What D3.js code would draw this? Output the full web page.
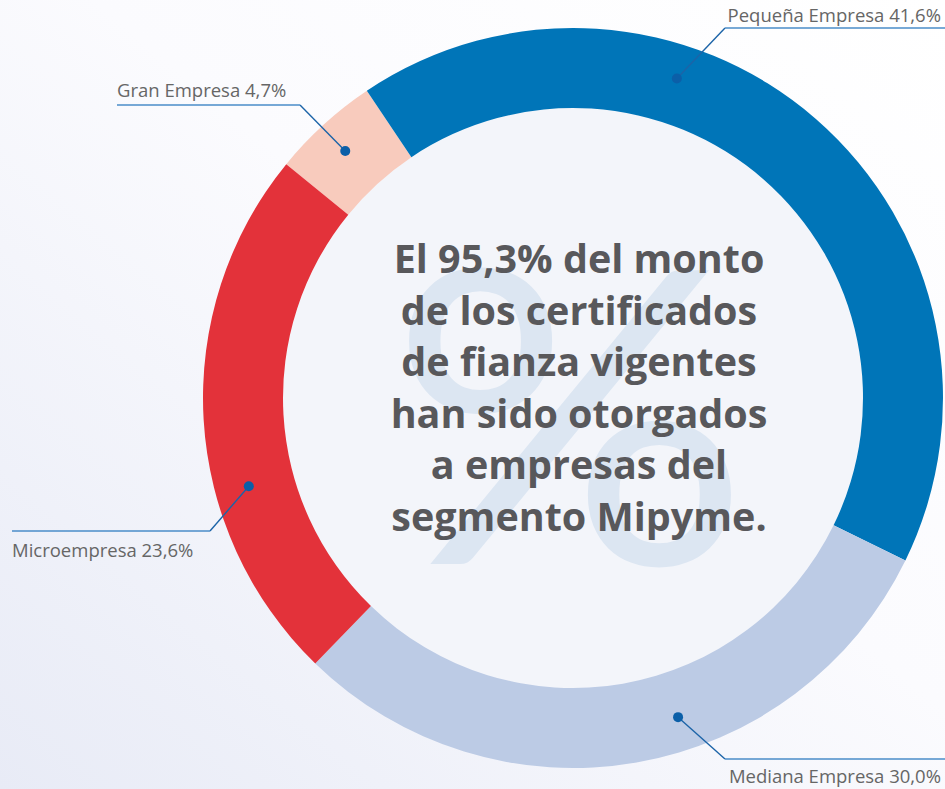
<!DOCTYPE html>
<html>
<head>
<meta charset="utf-8">
<script src="https://cdn.jsdelivr.net/npm/d3@7"></script>
<style>
  html, body { margin: 0; padding: 0; }
  #chart { width: 945px; height: 789px; }
</style>
</head>
<body>
<div id="chart"><svg></svg></div>
<script>
// segments, clockwise from the top-left
const segments = ["Gran Empresa", "Pequeña Empresa", "Mediana Empresa", "Microempresa"];
const shares = [4.7, 41.6, 30.0, 23.6];
const shareLabels = ["4,7%", "41,6%", "30,0%", "23,6%"];
const colors = ["#f8cbbd", "#0075b8", "#bccbe5", "#e3323a"];
const headline = [
  "El 95,3% del monto",
  "de los certificados",
  "de fianza vigentes",
  "han sido otorgados",
  "a empresas del",
  "segmento Mipyme."
];

const width = 945, height = 789;
const cx = 573, cy = 398;
const rOuter = 370, rInner = 290;
const startDeg = -50.8;

// where the callout dot sits along each arc (fraction of its span) and where its label goes
const callouts = [
  { t: 0.48, elbow: [300, 105], end: 117, anchor: "start", textY: 97 },
  { t: 0.346, elbow: [725, 28], end: 945, anchor: "end", textY: 22 },
  { t: 0.423, elbow: [725, 759], end: 945, anchor: "end", textY: 783 },
  { t: 0.36, elbow: [210, 531], end: 12, anchor: "start", textY: 557 }
];

const svg = d3.select("#chart > svg")
  .attr("width", width)
  .attr("height", height);

const defs = svg.append("defs");
const grad = defs.append("linearGradient")
  .attr("id", "bg")
  .attr("x1", "1").attr("y1", "0")
  .attr("x2", "0").attr("y2", "1");
grad.append("stop").attr("offset", "0").attr("stop-color", "#ffffff");
grad.append("stop").attr("offset", "0.45").attr("stop-color", "#fbfbfe");
grad.append("stop").attr("offset", "1").attr("stop-color", "#e8ebf6");

svg.append("rect")
  .attr("width", width)
  .attr("height", height)
  .attr("fill", "url(#bg)");

const g = svg.append("g").attr("transform", `translate(${cx}, ${cy})`);

// inner disc
g.append("circle").attr("r", rInner).attr("fill", "#f3f5fa");

// big watermark percent sign
g.append("text")
  .attr("transform", "translate(-3, 166) scale(1.1, 1)")
  .attr("text-anchor", "middle")
  .attr("font-family", "Lato, 'Open Sans', sans-serif")
  .attr("font-weight", 400)
  .attr("font-size", 410)
  .attr("fill", "#dce6f2")
  .text("%");

const pie = d3.pie()
  .sort(null)
  .value(d => d)
  .startAngle(startDeg * Math.PI / 180)
  .endAngle((startDeg + 360) * Math.PI / 180);

const arcs = pie(shares);

const arc = d3.arc().innerRadius(rInner).outerRadius(rOuter);

g.selectAll("path.slice")
  .data(arcs)
  .join("path")
  .attr("class", "slice")
  .attr("d", arc)
  .attr("fill", (d, i) => colors[i]);

// headline text
const lineH = 51.5;
g.append("text")
  .attr("text-anchor", "middle")
  .attr("font-family", "'Open Sans', sans-serif")
  .attr("font-weight", 700)
  .attr("font-size", 39.5)
  .attr("fill", "#58585b")
  .selectAll("tspan")
  .data(headline)
  .join("tspan")
  .attr("x", 6)
  .attr("y", (d, i) => -125 + i * lineH)
  .text(d => d);

// callouts
const rMid = 336;
arcs.forEach((d, i) => {
  const c = callouts[i];
  const a = d.startAngle + (d.endAngle - d.startAngle) * c.t;
  const px = cx + rMid * Math.sin(a);
  const py = cy - rMid * Math.cos(a);

  svg.append("path")
    .attr("d", d3.line()([[px, py], c.elbow]))
    .attr("fill", "none")
    .attr("stroke", "#1c64a8")
    .attr("stroke-width", 1.4);

  svg.append("line")
    .attr("x1", c.elbow[0]).attr("y1", c.elbow[1])
    .attr("x2", c.end).attr("y2", c.elbow[1])
    .attr("stroke", "#4a8dc9")
    .attr("stroke-width", 1.6);

  svg.append("circle")
    .attr("cx", px).attr("cy", py)
    .attr("r", 5)
    .attr("fill", "#0b5fa8");

  svg.append("text")
    .attr("x", c.anchor === "end" ? 941 : c.end)
    .attr("y", c.textY)
    .attr("text-anchor", c.anchor)
    .attr("font-family", "'Open Sans', sans-serif")
    .attr("font-size", 18.5)
    .attr("fill", "#666666")
    .text(`${segments[i]} ${shareLabels[i]}`);
});
</script>
</body>
</html>
